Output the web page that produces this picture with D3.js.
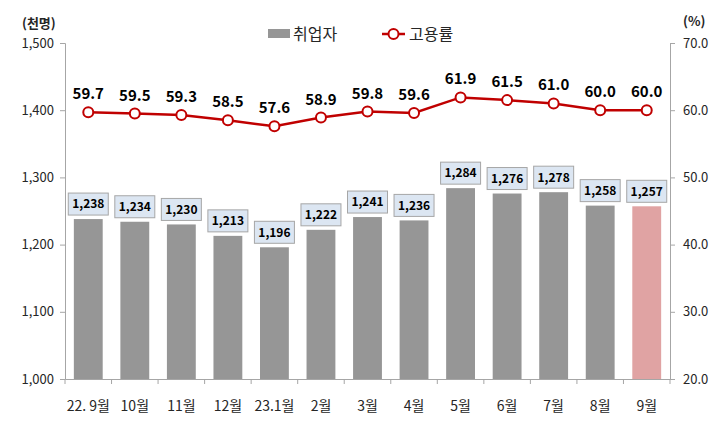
<!DOCTYPE html>
<html><head><meta charset="utf-8">
<script src="https://cdn.jsdelivr.net/npm/d3@7"></script>
<style>body{margin:0;background:#fff;font-family:"Malgun Gothic","Noto Sans CJK KR",sans-serif;}</style>
</head><body><svg id="c" width="720" height="435"></svg>
<script>
const months = ["22. 9월","10월","11월","12월","23.1월","2월","3월","4월","5월","6월","7월","8월","9월"];
const employed = [1238,1234,1230,1213,1196,1222,1241,1236,1284,1276,1278,1258,1257];
const rate = [59.7,59.5,59.3,58.5,57.6,58.9,59.8,59.6,61.9,61.5,61.0,60.0,60.0];
const leftTicks = [1000,1100,1200,1300,1400,1500];
const rightTicks = [20,30,40,50,60,70];

const svg = d3.select("#c");
const font = "'Malgun Gothic','Noto Sans CJK KR',sans-serif";
const L = 65, R = 670, T = 43, B = 379;
const x = d3.scaleBand().domain(months).range([L, R]).paddingInner(0.38).paddingOuter(0.19);
const xt = d3.scaleBand().domain(months).range([L, R]);
const yL = d3.scaleLinear().domain([1000,1500]).range([B, T]);
const yR = d3.scaleLinear().domain([20,70]).range([B, T]);

const axL = svg.append("g").attr("transform",`translate(${L},0)`)
  .call(d3.axisLeft(yL).tickValues(leftTicks).tickFormat(d3.format(",")).tickSize(5).tickPadding(6));
const axR = svg.append("g").attr("transform",`translate(${R},0)`)
  .call(d3.axisRight(yR).tickValues(rightTicks).tickFormat(d3.format(".1f")).tickSize(5).tickPadding(8));
const axB = svg.append("g").attr("transform",`translate(0,${B})`)
  .call(d3.axisBottom(xt).tickSize(0).tickPadding(22));
[axL,axR,axB].forEach(a=>{
  a.selectAll("path.domain").attr("stroke","#a6a6a6").attr("stroke-width",1);
  a.selectAll(".tick line").attr("stroke","#a6a6a6");
  a.selectAll("text").attr("font-family",font).attr("fill","#262626");
});
axL.selectAll("text").attr("font-size",13);
axR.selectAll("text").attr("font-size",13);
axB.selectAll("text").attr("font-size",14);
axB.selectAll(".bt").data(d3.range(months.length+1)).enter().append("line")
  .attr("x1",i=>L+i*xt.step()).attr("x2",i=>L+i*xt.step())
  .attr("y1",0).attr("y2",5).attr("stroke","#a6a6a6");

svg.append("g").selectAll("rect").data(employed).enter().append("rect")
  .attr("x",(d,i)=>x(months[i])).attr("width",x.bandwidth())
  .attr("y",d=>yL(d)).attr("height",d=>B-yL(d))
  .attr("fill",(d,i)=>i===months.length-1?"#e0a3a3":"#969696");

const bl = svg.append("g").selectAll("g").data(employed).enter().append("g")
  .attr("transform",(d,i)=>`translate(${xt(months[i])+xt.bandwidth()/2},${yL(d)-15})`);
bl.append("rect").attr("x",-20).attr("y",-11).attr("width",40).attr("height",22)
  .attr("fill","#dce6f2").attr("stroke","#a6a6a6").attr("stroke-width",1);
bl.append("text").attr("text-anchor","middle").attr("dy","0.36em")
  .attr("font-family",font).attr("font-weight","bold").attr("font-size",12).attr("fill","#000")
  .text(d=>d3.format(",")(d));

const cx = (i)=>xt(months[i])+xt.bandwidth()/2;
svg.append("path").datum(rate)
  .attr("d",d3.line().x((d,i)=>cx(i)).y(d=>yR(d)))
  .attr("fill","none").attr("stroke","#c00000").attr("stroke-width",2.5);
svg.append("g").selectAll("circle").data(rate).enter().append("circle")
  .attr("cx",(d,i)=>cx(i)).attr("cy",d=>yR(d)).attr("r",5)
  .attr("fill","#fff").attr("stroke","#c00000").attr("stroke-width",2);
svg.append("g").selectAll("text").data(rate).enter().append("text")
  .attr("x",(d,i)=>cx(i)).attr("y",d=>yR(d)-13).attr("text-anchor","middle")
  .attr("font-family",font).attr("font-weight","bold").attr("font-size",15).attr("fill","#000")
  .text(d=>d.toFixed(1));

svg.append("text").attr("x",22).attr("y",28).attr("font-family",font).attr("font-weight","bold")
  .attr("font-size",13).attr("fill","#262626").text("(천명)");
svg.append("text").attr("x",683).attr("y",26).attr("font-family",font).attr("font-weight","bold")
  .attr("font-size",13).attr("fill","#262626").text("(%)");

const lg = svg.append("g");
lg.append("rect").attr("x",268).attr("y",29).attr("width",22).attr("height",9).attr("fill","#969696");
lg.append("text").attr("x",293).attr("y",40).attr("font-family",font).attr("font-size",16).attr("fill","#262626").text("취업자");
lg.append("line").attr("x1",382).attr("x2",405).attr("y1",34).attr("y2",34).attr("stroke","#c00000").attr("stroke-width",2.5);
lg.append("circle").attr("cx",393.5).attr("cy",34).attr("r",5).attr("fill","#fff").attr("stroke","#c00000").attr("stroke-width",2);
lg.append("text").attr("x",409).attr("y",40).attr("font-family",font).attr("font-size",16).attr("fill","#262626").text("고용률");
</script></body></html>
